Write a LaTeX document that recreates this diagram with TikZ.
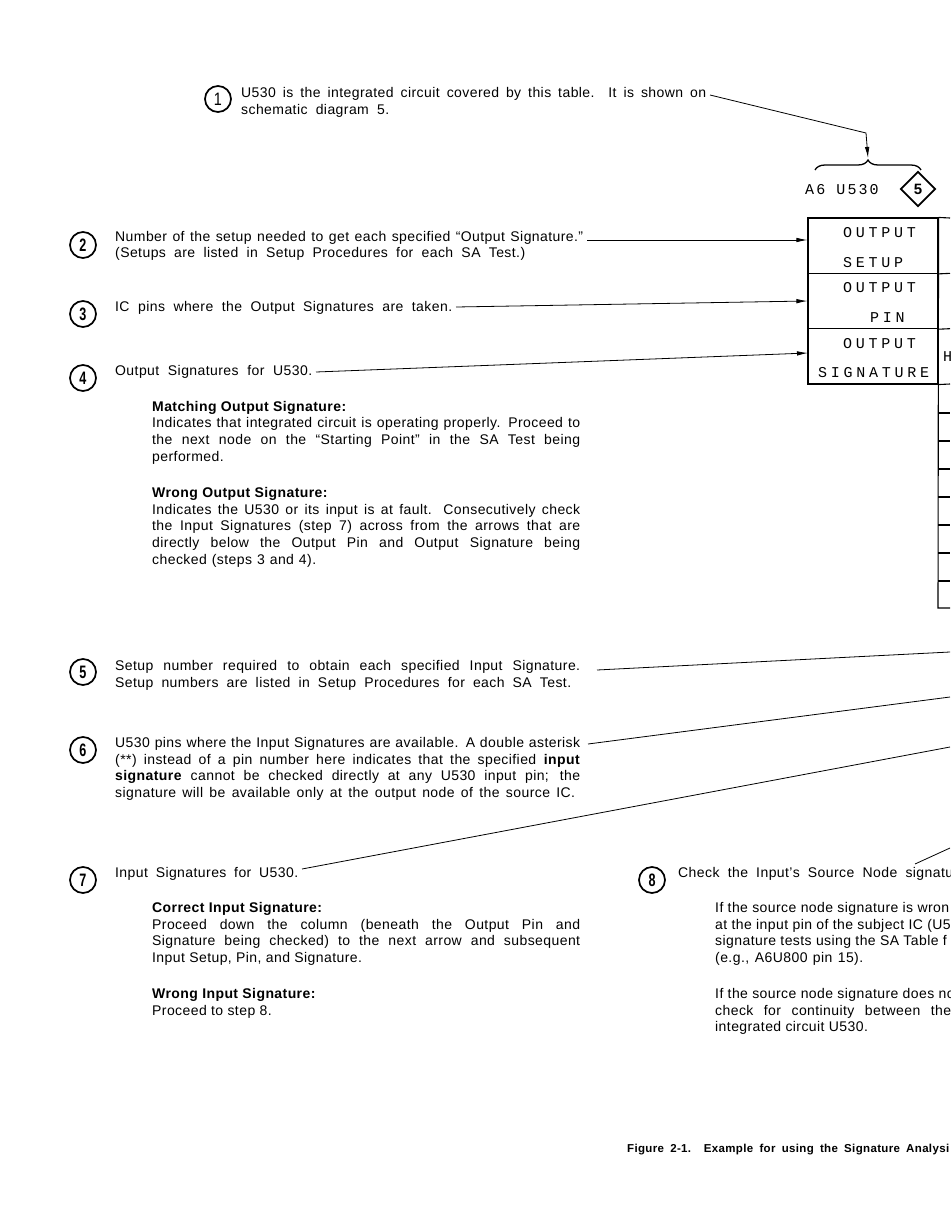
\documentclass[tikz,border=0pt]{standalone}
\usepackage{fontspec}
\usepackage{graphicx}
\setmainfont{Liberation Sans}[LetterSpace=3]
\newfontfamily\dotfont[LetterSpace=25]{Liberation Mono}
\newfontfamily\lblfont[LetterSpace=14]{Liberation Mono}
\usetikzlibrary{decorations.pathreplacing,arrows.meta,shapes.geometric}
\newcommand\jl[2]{\makebox[#1pt][s]{#2}}
\newcommand\cnum[1]{\scalebox{0.7}[1]{\bfseries\fontsize{18}{18}\selectfont #1}}
\begin{document}
\begin{tikzpicture}[x=1pt,y=-1pt,
  numc/.style={circle,draw,line width=1.7pt,minimum size=26pt,inner sep=0pt},
  bodyt/.style={inner sep=0pt,anchor=base west,font=\fontsize{14}{16.7}\selectfont},
  leadr/.style={line width=0.8pt},
  arrw/.style={leadr,-{Latex[length=11pt,width=4.5pt]}},
  cellb/.style={draw,line width=1.1pt,minimum width=130pt,minimum height=55.33pt,inner sep=0pt},
  dott/.style={inner sep=0pt,anchor=base west,font=\dotfont\fontsize{15}{15}\selectfont},
  tline/.style={line width=1.1pt}]
\useasboundingbox (0,0) rectangle (950,1228);
\fill[white] (0,0) rectangle (950,1228);
\clip (0,0) rectangle (950,1228);

% ---------- step 1 ----------
\node[numc] (n1) at (218,99) {\scalebox{0.8}[1]{\fontsize{18}{18}\selectfont 1}};
\node[bodyt] (t1) at (241,97.5) {\parbox[t]{520pt}{\raggedright \jl{465}{U530 is the integrated circuit covered by this table. It is shown on}\\\jl{148}{schematic diagram 5.}}};
\coordinate (l1a) at (710,95);
\coordinate (l1b) at (866,133);
\coordinate (btip) at (868,158);
\draw[arrw] (l1a) -- (l1b) -- (btip);

% brace, label and diamond
\coordinate (brl) at (815,170);
\coordinate (brr) at (921,170);
\draw[decorate,decoration={brace,amplitude=10pt},line width=1.3pt] (brl) -- (brr);
\node[inner sep=0pt,anchor=base west,font=\lblfont\fontsize{15}{15}\selectfont] (lbl) at (805,194.5) {A6 U530};
\node[diamond,draw,line width=1.8pt,minimum width=35pt,minimum height=35pt,inner sep=0pt] (dia) at (918,189) {\bfseries\fontsize{15}{15}\selectfont 5};

% ---------- table ----------
\node[cellb] (c1) at (873,245.67) {};
\node[cellb] (c2) at (873,301) {};
\node[cellb] (c3) at (873,356.33) {};
\node[dott] (c1a) at (843,237.5) {OUTPUT};
\node[dott] (c1b) at (843,267) {SETUP};
\node[dott] (c2a) at (843,292.8) {OUTPUT};
\node[dott] (c2b) at (870,322.3) {PIN};
\node[dott] (c3a) at (843,348.2) {OUTPUT};
\node[dott] (c3b) at (818,377.6) {SIGNATURE};
\node[dott] (hh) at (943,361) {H};
\draw[tline] (c1.north east) -- (950,218);
\draw[tline] (c1.south east) -- (950,273.33);
\draw[tline] (c2.south east) -- (950,328.67);
\draw[tline] (c3.south east) -- (950,384);
\draw[tline] (c1.north east) -- (938,608) -- (950,608);
\foreach \yy in {413,441,469,497,525,553,581} \draw[tline] (938,\yy) -- (950,\yy);

% ---------- step 2 ----------
\node[numc] (n2) at (83,245) {\cnum{2}};
\node[bodyt] (t2) at (115,241) {\parbox[t]{520pt}{\raggedright \jl{468}{Number of the setup needed to get each specified “Output Signature.”}\\\jl{410}{(Setups are listed in Setup Procedures for each SA Test.)}}};
\coordinate (l2a) at (587,240);
\draw[arrw] (l2a) -- (l2a -| c1.west);

% ---------- step 3 ----------
\node[numc] (n3) at (83,314) {\cnum{3}};
\node[bodyt] (t3) at (115,311) {\jl{337}{IC pins where the Output Signatures are taken.}};
\coordinate (l3a) at (456,307);
\draw[arrw] (l3a) -- (c2.west);

% ---------- step 4 ----------
\node[numc] (n4) at (83,378) {\cnum{4}};
\node[bodyt] (t4) at (115,375) {\jl{197}{Output Signatures for U530.}};
\coordinate (l4a) at (316,372);
\coordinate (l4b) at (808,353);
\draw[arrw] (l4a) -- (l4b);

\node[bodyt] (s4a) at (152,411) {\parbox[t]{428pt}{\textbf{Matching Output Signature:}\\
\jl{428}{Indicates that integrated circuit is operating properly. Proceed to}\\
\jl{428}{the next node on the “Starting Point” in the SA Test being}\\
performed.}};
\node[bodyt] (s4b) at (152,497.5) {\parbox[t]{428pt}{\textbf{Wrong Output Signature:}\\
\jl{428}{Indicates the U530 or its input is at fault. Consecutively check}\\
\jl{428}{the Input Signatures (step 7) across from the arrows that are}\\
\jl{428}{directly below the Output Pin and Output Signature being}\\
\jl{164}{checked (steps 3 and 4).}}};

% ---------- step 5 ----------
\node[numc] (n5) at (83,672) {\cnum{5}};
\node[bodyt] (t5) at (115,670.5) {\parbox[t]{465pt}{\jl{465}{Setup number required to obtain each specified Input Signature.}\\
\jl{456}{Setup numbers are listed in Setup Procedures for each SA Test.}}};
\coordinate (l5a) at (597,670);
\coordinate (r5) at (950,652);
\draw[leadr] (l5a) -- (r5);

% ---------- step 6 ----------
\node[numc] (n6) at (83,750) {\cnum{6}};
\node[bodyt] (t6) at (115,747.5) {\parbox[t]{465pt}{\jl{465}{U530 pins where the Input Signatures are available. A double asterisk}\\
\jl{465}{(**) instead of a pin number here indicates that the specified \textbf{input}}\\
\jl{465}{\textbf{signature} cannot be checked directly at any U530 input pin; the}\\
\jl{460}{signature will be available only at the output node of the source IC.}}};
\coordinate (l6a) at (588,744);
\coordinate (r6) at (950,697);
\draw[leadr] (l6a) -- (r6);

% ---------- step 7 ----------
\node[numc] (n7) at (83,880) {\cnum{7}};
\node[bodyt] (t7) at (115,877.5) {\jl{183}{Input Signatures for U530.}};
\coordinate (l7a) at (302,869);
\coordinate (r7) at (950,747);
\draw[leadr] (l7a) -- (r7);
\node[bodyt] (s7a) at (152,912.5) {\parbox[t]{428pt}{\textbf{Correct Input Signature:}\\
\jl{428}{Proceed down the column (beneath the Output Pin and}\\
\jl{428}{Signature being checked) to the next arrow and subsequent}\\
Input Setup, Pin, and Signature.}};
\node[bodyt] (s7b) at (152,998.5) {\parbox[t]{428pt}{\textbf{Wrong Input Signature:}\\
Proceed to step 8.}};

% ---------- step 8 ----------
\node[numc] (n8) at (652,880) {\cnum{8}};
\node[bodyt] (t8) at (678,877.5) {\jl{275}{Check the Input's Source Node signatu}};
\coordinate (l8a) at (915,864);
\coordinate (r8) at (950,848);
\draw[leadr] (l8a) -- (r8);
\node[bodyt] (s8a) at (715,912.5) {\parbox[t]{300pt}{\raggedright If the source node signature is wron\\
at the input pin of the subject IC (U5\\
signature tests using the SA Table f\\
\jl{148}{(e.g., A6U800 pin 15).}}};
\node[bodyt] (s8b) at (715,998.5) {\parbox[t]{300pt}{\raggedright If the source node signature does no\\
\jl{236}{check for continuity between the}\\
integrated circuit U530.}};

% ---------- caption ----------
\node[inner sep=0pt,anchor=base west,font=\bfseries\fontsize{11.5}{12}\selectfont] (cap) at (627,1152) {\jl{322}{Figure 2-1. Example for using the Signature Analysi}};
\end{tikzpicture}
\end{document}
